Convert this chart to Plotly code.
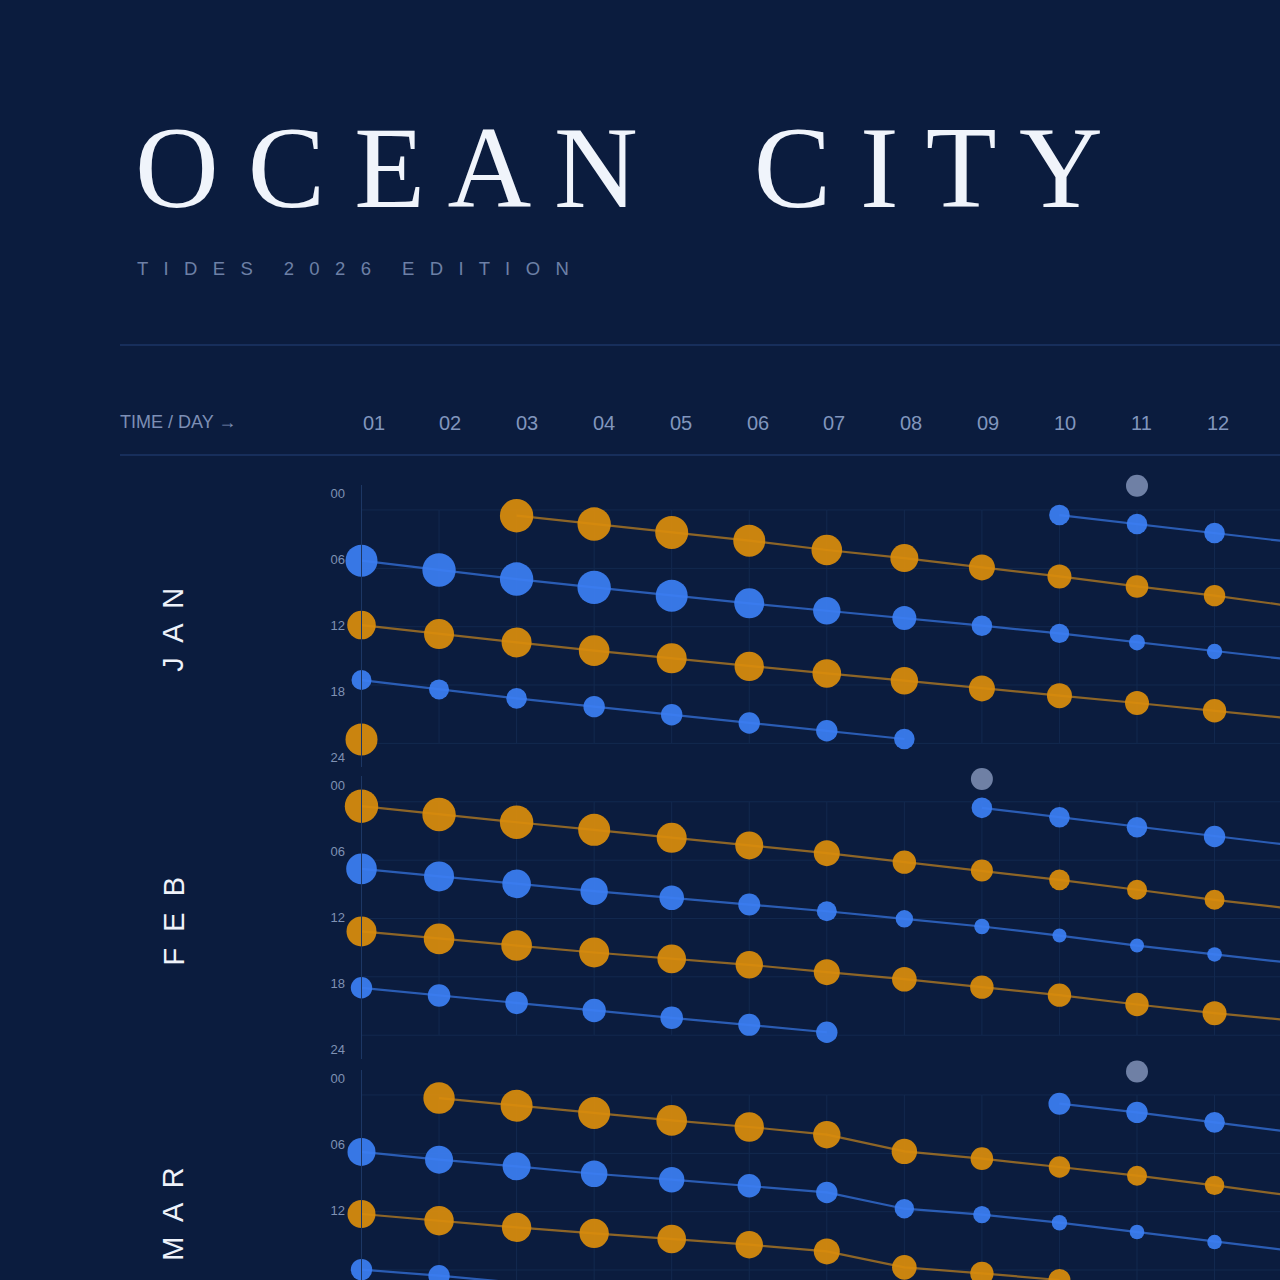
import plotly.graph_objects as go

# ---------------- DATA ----------------
day_labels = ["01", "02", "03", "04", "05", "06", "07", "08", "09", "10", "11", "12"]
hour_ticks = [0, 6, 12, 18, 24]
hour_labels = ["00", "06", "12", "18", "24"]
months = ["J  A  N", "F  E  B", "M  A  R"]

# JAN  (hours of day, tide magnitude in ft -> marker size)
jan_h1_days = [3, 4, 5, 6, 7, 8, 9, 10, 11, 12, 13]
jan_h1_hours = [2.00, 2.76, 3.52, 4.27, 5.12, 5.85, 6.70, 7.52, 8.43, 9.27, 10.23]
jan_h1_ft = [1.67, 1.67, 1.65, 1.60, 1.53, 1.40, 1.30, 1.20, 1.13, 1.07, 1.00]

jan_l1_days = [1, 2, 3, 4, 5, 6, 7, 8, 9, 10, 11, 12, 13]
jan_l1_hours = [6.09, 6.94, 7.76, 8.52, 9.27, 9.97, 10.64, 11.30, 12.00, 12.70, 13.52, 14.34, 15.10]
jan_l1_ft = [1.60, 1.67, 1.67, 1.67, 1.60, 1.50, 1.37, 1.20, 1.03, 0.97, 0.80, 0.77, 0.72]

jan_h2_days = [1, 2, 3, 4, 5, 6, 7, 8, 9, 10, 11, 12, 13]
jan_h2_hours = [11.94, 12.76, 13.52, 14.27, 14.97, 15.70, 16.34, 17.00, 17.70, 18.36, 19.03, 19.73, 20.45]
jan_h2_ft = [1.43, 1.50, 1.50, 1.53, 1.50, 1.47, 1.43, 1.37, 1.30, 1.25, 1.20, 1.17, 1.12]

jan_l2_days = [1, 2, 3, 4, 5, 6, 7, 8]
jan_l2_hours = [16.94, 17.79, 18.61, 19.36, 20.09, 20.85, 21.55, 22.30]
jan_l2_ft = [1.00, 1.00, 1.03, 1.07, 1.07, 1.07, 1.07, 1.03]

jan_h3_days = [1]
jan_h3_hours = [22.34]
jan_h3_ft = [1.60]

jan_l0_days = [10, 11, 12, 13]
jan_l0_hours = [1.94, 2.76, 3.57, 4.40]
jan_l0_ft = [1.03, 1.03, 1.03, 1.03]

jan_gray_days = [11]
jan_gray_hours = [-0.73]
jan_gray_ft = [1.10]

# FEB
feb_h1_days = [1, 2, 3, 4, 5, 6, 7, 8, 9, 10, 11, 12, 13]
feb_h1_hours = [1.88, 2.64, 3.34, 4.03, 4.76, 5.45, 6.15, 6.97, 7.73, 8.58, 9.48, 10.39, 11.20]
feb_h1_ft = [1.67, 1.67, 1.67, 1.60, 1.50, 1.40, 1.30, 1.17, 1.10, 1.03, 1.00, 1.00, 0.98]

feb_l1_days = [1, 2, 3, 4, 5, 6, 7, 8, 9, 10, 11, 12, 13]
feb_l1_hours = [7.58, 8.27, 8.94, 9.61, 10.21, 10.82, 11.43, 12.12, 12.82, 13.64, 14.55, 15.36, 16.14]
feb_l1_ft = [1.53, 1.50, 1.43, 1.37, 1.23, 1.10, 1.00, 0.87, 0.77, 0.70, 0.70, 0.73, 0.75]

feb_h2_days = [1, 2, 3, 4, 5, 6, 7, 8, 9, 10, 11, 12, 13]
feb_h2_hours = [13.27, 13.94, 14.55, 15.18, 15.76, 16.30, 16.97, 17.61, 18.33, 19.06, 19.91, 20.70, 21.36]
feb_h2_ft = [1.50, 1.53, 1.53, 1.50, 1.43, 1.37, 1.30, 1.23, 1.17, 1.17, 1.17, 1.20, 1.22]

feb_l2_days = [1, 2, 3, 4, 5, 6, 7]
feb_l2_hours = [18.39, 19.09, 19.76, 20.45, 21.12, 21.76, 22.43]
feb_l2_ft = [1.07, 1.13, 1.13, 1.17, 1.13, 1.10, 1.07]

feb_l0_days = [9, 10, 11, 12, 13]
feb_l0_hours = [2.03, 2.88, 3.79, 4.64, 5.45]
feb_l0_ft = [1.03, 1.03, 1.03, 1.07, 1.08]

feb_gray_days = [9]
feb_gray_hours = [-0.59]
feb_gray_ft = [1.10]

# MAR
mar_h1_days = [2, 3, 4, 5, 6, 7, 8, 9, 10, 11, 12, 13]
mar_h1_hours = [1.76, 2.45, 3.12, 3.79, 4.39, 5.09, 6.61, 7.27, 8.03, 8.82, 9.70, 10.64]
mar_h1_ft = [1.57, 1.60, 1.60, 1.53, 1.47, 1.37, 1.27, 1.13, 1.07, 1.00, 0.97, 0.95]

mar_l1_days = [1, 2, 3, 4, 5, 6, 7, 8, 9, 10, 11, 12, 13]
mar_l1_hours = [6.66, 7.36, 7.97, 8.64, 9.18, 9.73, 10.34, 11.82, 12.36, 13.09, 13.94, 14.85, 15.64]
mar_l1_ft = [1.40, 1.40, 1.40, 1.33, 1.27, 1.17, 1.07, 0.97, 0.87, 0.77, 0.73, 0.73, 0.73]

mar_h2_days = [1, 2, 3, 4, 5, 6, 7, 8, 9, 10]
mar_h2_hours = [12.30, 12.91, 13.52, 14.06, 14.57, 15.09, 15.70, 17.15, 17.70, 18.30]
mar_h2_ft = [1.40, 1.47, 1.47, 1.47, 1.43, 1.37, 1.30, 1.23, 1.17, 1.10]

mar_l2_days = [1, 2, 3]
mar_l2_hours = [17.36, 17.91, 18.55]
mar_l2_ft = [1.07, 1.07, 1.07]

mar_l0_days = [10, 11, 12, 13]
mar_l0_hours = [2.27, 3.06, 3.97, 4.85]
mar_l0_ft = [1.10, 1.07, 1.03, 1.00]

mar_gray_days = [11]
mar_gray_hours = [-0.66]
mar_gray_ft = [1.10]

# ---------------- STYLE ----------------
W = H = 1280
BG = "#0b1c3e"
ORANGE = "#d98c0c"
BLUE = "#3b7ef2"
GRAY = "#7a8cb0"
ORANGE_LINE = "rgba(210,140,28,0.66)"
BLUE_LINE = "rgba(59,126,242,0.66)"
GRID = "#13294f"
AXIS = "#1d3764"
RULE = "#1c3566"
TICK = "#7f91b3"
SIZE_PX_PER_FT = 20

X_LEFT = 361.5
X_RANGE = [1, 12.844]
PANEL_TOPS = [486.7, 778.5, 1071.7]   # pixel where hour -0.636 sits
PANEL_H = 280
Y_TOP_REF = -0.636
Y_TOP = -0.82                          # a little headroom for the grey markers
PX_PER_H = 11.0
GRID_HOURS = [1.48, 6.79, 12.09, 17.39, 22.70]


def py(px):
    return 1 - px / H


panels = [
    [("h", jan_h1_days, jan_h1_hours, jan_h1_ft),
     ("l", jan_l1_days, jan_l1_hours, jan_l1_ft),
     ("h", jan_h2_days, jan_h2_hours, jan_h2_ft),
     ("l", jan_l2_days, jan_l2_hours, jan_l2_ft),
     ("h", jan_h3_days, jan_h3_hours, jan_h3_ft),
     ("l", jan_l0_days, jan_l0_hours, jan_l0_ft),
     ("g", jan_gray_days, jan_gray_hours, jan_gray_ft)],
    [("h", feb_h1_days, feb_h1_hours, feb_h1_ft),
     ("l", feb_l1_days, feb_l1_hours, feb_l1_ft),
     ("h", feb_h2_days, feb_h2_hours, feb_h2_ft),
     ("l", feb_l2_days, feb_l2_hours, feb_l2_ft),
     ("l", feb_l0_days, feb_l0_hours, feb_l0_ft),
     ("g", feb_gray_days, feb_gray_hours, feb_gray_ft)],
    [("h", mar_h1_days, mar_h1_hours, mar_h1_ft),
     ("l", mar_l1_days, mar_l1_hours, mar_l1_ft),
     ("h", mar_h2_days, mar_h2_hours, mar_h2_ft),
     ("l", mar_l2_days, mar_l2_hours, mar_l2_ft),
     ("l", mar_l0_days, mar_l0_hours, mar_l0_ft),
     ("g", mar_gray_days, mar_gray_hours, mar_gray_ft)],
]

fig = go.Figure()
shapes = []
annotations = []

for i, series in enumerate(panels):
    sfx = "" if i == 0 else str(i + 1)
    xa, ya = "x" + sfx, "y" + sfx
    top_ref = PANEL_TOPS[i]
    top = top_ref - (Y_TOP_REF - Y_TOP) * PX_PER_H
    bottom = min(top_ref + PANEL_H, H)
    y_bottom = Y_TOP + (bottom - top) / PX_PER_H

    fig.layout["xaxis" + sfx] = dict(
        domain=[X_LEFT / W, 1], range=X_RANGE, anchor=ya,
        showgrid=False, zeroline=False, showticklabels=False, showline=False,
        fixedrange=True)
    fig.layout["yaxis" + sfx] = dict(
        domain=[py(bottom), py(top)], range=[y_bottom, Y_TOP], anchor=xa,
        showgrid=False, zeroline=False, showline=True, linecolor=AXIS, linewidth=1,
        tickvals=hour_ticks, ticktext=hour_labels, ticks="",
        tickfont=dict(family="Liberation Sans, Arial, sans-serif", size=13, color=TICK),
        ticklabelstandoff=13, fixedrange=True)

    for g in GRID_HOURS:
        shapes.append(dict(type="line", xref=xa + " domain", yref=ya, x0=0, x1=1,
                           y0=g, y1=g, line=dict(color=GRID, width=1), layer="below"))
    for d in range(2, 14):
        shapes.append(dict(type="line", xref=xa, yref=ya, x0=d, x1=d,
                           y0=GRID_HOURS[0], y1=GRID_HOURS[-1],
                           line=dict(color=GRID, width=1), layer="below"))

    for kind, d, h, ft in series:
        sizes = [v * SIZE_PX_PER_FT for v in ft]
        if kind == "g":
            fig.add_trace(go.Scatter(
                x=d, y=h, mode="markers", xaxis=xa, yaxis=ya, cliponaxis=False,
                marker=dict(size=sizes, color=GRAY, opacity=0.9, line=dict(width=0)),
                hoverinfo="skip", showlegend=False))
        else:
            fig.add_trace(go.Scatter(
                x=d, y=h, mode="lines+markers", xaxis=xa, yaxis=ya, cliponaxis=False,
                line=dict(color=ORANGE_LINE if kind == "h" else BLUE_LINE, width=2.2),
                marker=dict(size=sizes, color=ORANGE if kind == "h" else BLUE,
                            opacity=0.93, line=dict(width=0)),
                hoverinfo="skip", showlegend=False))

    annotations.append(dict(
        text=months[i], x=173 / W, y=py(top_ref + 143), xref="paper", yref="paper",
        xanchor="center", yanchor="middle", textangle=-90, showarrow=False,
        font=dict(family="Liberation Sans, Arial, sans-serif", size=29, color="#eef2fa")))

for yy in (345, 455):
    shapes.append(dict(type="line", xref="paper", yref="paper", x0=120 / W, x1=1,
                       y0=py(yy), y1=py(yy), line=dict(color=RULE, width=1.5)))

annotations.append(dict(
    text="O C E A N    C I T Y", x=133 / W, y=py(168), xref="paper", yref="paper",
    xanchor="left", yanchor="middle", showarrow=False,
    font=dict(family="Liberation Serif, Times New Roman, serif", size=116, color="#f0f4fb")))
annotations.append(dict(
    text="T   I   D   E   S      2   0   2   6      E   D   I   T   I   O   N",
    x=135 / W, y=py(268.5), xref="paper", yref="paper",
    xanchor="left", yanchor="middle", showarrow=False,
    font=dict(family="Liberation Sans, Arial, sans-serif", size=18.5, color="#6d80a6")))
annotations.append(dict(
    text="TIME / DAY →", x=118 / W, y=py(422), xref="paper", yref="paper",
    xanchor="left", yanchor="middle", showarrow=False,
    font=dict(family="Liberation Sans, Arial, sans-serif", size=18, color="#7d8fb5")))
for k, lab in enumerate(day_labels):
    annotations.append(dict(
        text=lab, x=(373.5 + k * 76.8) / W, y=py(423), xref="paper", yref="paper",
        xanchor="center", yanchor="middle", showarrow=False,
        font=dict(family="Liberation Sans, Arial, sans-serif", size=20, color="#8196bd")))

fig.update_layout(
    width=W, height=H, margin=dict(l=0, r=0, t=0, b=0, pad=0),
    paper_bgcolor=BG, plot_bgcolor=BG, showlegend=False,
    shapes=shapes, annotations=annotations, hovermode=False)

fig.write_html("out.html", config={"displayModeBar": False, "staticPlot": True},
               post_script="document.body.style.margin='0px';")
